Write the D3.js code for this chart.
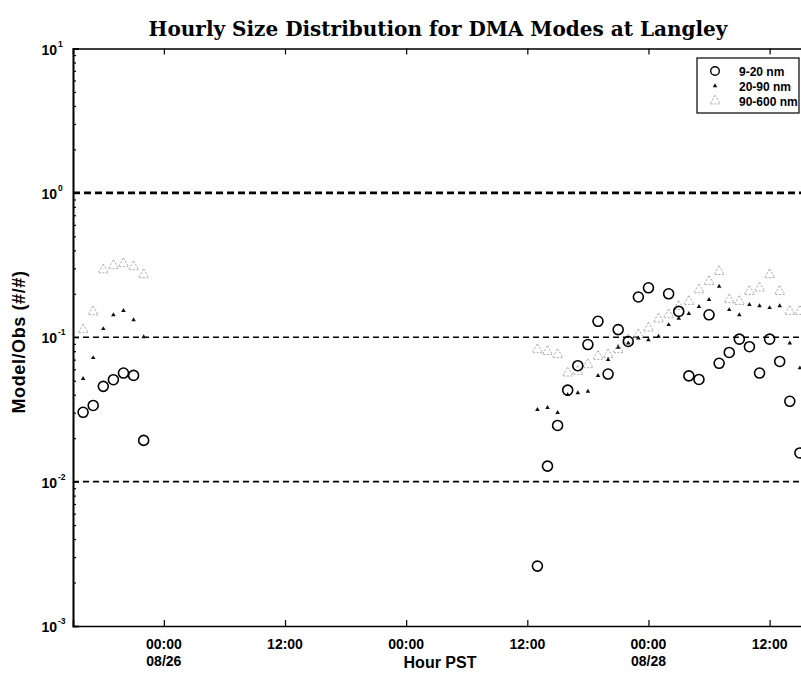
<!DOCTYPE html>
<html>
<head>
<meta charset="utf-8">
<script src="https://cdn.jsdelivr.net/npm/d3@7"></script>
<style>
  body { margin: 0; background: #fff; }
  svg { display: block; }
</style>
</head>
<body>
<svg id="chart" width="801" height="673"></svg>
<script>
// ---- data: hourly model/observation ratios (PST) ----
const eveningHours = [
  "2000-08-25T16:00", "2000-08-25T17:00", "2000-08-25T18:00", "2000-08-25T19:00",
  "2000-08-25T20:00", "2000-08-25T21:00", "2000-08-25T22:00"
];
const eveningSmall  = [0.0302, 0.0337, 0.0457, 0.0508, 0.0565, 0.0544, 0.0193];
const eveningMedium = [0.0516, 0.0721, 0.1145, 0.143, 0.153, 0.132, 0.1007];
const eveningLarge  = [0.1127, 0.150, 0.293, 0.313, 0.323, 0.308, 0.271];

const laterHours = [
  "2000-08-27T13:00", "2000-08-27T14:00", "2000-08-27T15:00", "2000-08-27T16:00",
  "2000-08-27T17:00", "2000-08-27T18:00", "2000-08-27T19:00", "2000-08-27T20:00",
  "2000-08-27T21:00", "2000-08-27T22:00", "2000-08-27T23:00", "2000-08-28T00:00",
  "2000-08-28T01:00", "2000-08-28T02:00", "2000-08-28T03:00", "2000-08-28T04:00",
  "2000-08-28T05:00", "2000-08-28T06:00", "2000-08-28T07:00", "2000-08-28T08:00",
  "2000-08-28T09:00", "2000-08-28T10:00", "2000-08-28T11:00", "2000-08-28T12:00",
  "2000-08-28T13:00", "2000-08-28T14:00", "2000-08-28T15:00"
];
const laterSmall = [0.0026, 0.0128, 0.0245, 0.043, 0.0635, 0.089, 0.129, 0.0556,
  0.113, 0.0935, 0.19, 0.22, null, 0.20, 0.151, 0.054, 0.051, 0.143, 0.066,
  0.0785, 0.097, 0.086, 0.0565, 0.097, 0.068, 0.036, 0.0158];
const laterMedium = [0.0315, 0.0325, 0.030, 0.040, 0.0411, 0.0422, 0.0542, 0.070,
  0.085, 0.091, 0.0987, 0.096, 0.1013, 0.122, 0.135, 0.1455, 0.163, 0.182, 0.225,
  0.155, 0.143, 0.168, 0.165, 0.16, 0.165, 0.091, 0.0612];
const laterLarge = [0.0819, 0.0797, 0.0757, 0.0565, 0.058, 0.0645, 0.0737, 0.0757,
  0.0819, 0.096, 0.104, 0.1157, 0.1336, 0.143, 0.1633, 0.177, 0.213, 0.243, 0.285,
  0.182, 0.177, 0.2075, 0.219, 0.271, 0.2075, 0.151, 0.151];

const seriesNames = ["9-20 nm", "20-90 nm", "90-600 nm"];
const referenceLevels = [1, 0.1, 0.01];

const xTickTimes  = ["2000-08-26T00:00", "2000-08-26T12:00", "2000-08-27T00:00",
                     "2000-08-27T12:00", "2000-08-28T00:00", "2000-08-28T12:00"];
const xTickHours  = ["00:00", "12:00", "00:00", "12:00", "00:00", "12:00"];
const xTickDates  = ["08/26", "", "", "", "08/28", ""];
const yTickValues = [10, 1, 0.1, 0.01, 0.001];
const yTickExps   = ["1", "0", "-1", "-2", "-3"];

const titleText = "Hourly Size Distribution for DMA Modes at Langley";
const xLabel = "Hour PST";
const yLabel = "Model/Obs (#/#)";

// ---- layout ----
const svg = d3.select("#chart");
const plot = { left: 73, top: 48.5, right: 810, bottom: 626 };
const parse = d3.utcParse("%Y-%m-%dT%H:%M");
const sans = "Liberation Sans, Arial, sans-serif";

const x = d3.scaleUtc()
  .domain([parse("2000-08-25T15:00"), parse("2000-08-28T16:00")])
  .range([plot.left, plot.right]);
const y = d3.scaleLog().domain([0.001, 10]).range([plot.bottom, plot.top]);

svg.append("rect").attr("width", 801).attr("height", 673).attr("fill", "#fff");

// reference ratio lines
svg.append("g").selectAll("line").data(referenceLevels).join("line")
  .attr("x1", plot.left).attr("x2", plot.right)
  .attr("y1", d => y(d)).attr("y2", d => y(d))
  .attr("stroke", "#000")
  .attr("stroke-width", d => d === 1 ? 2.6 : 1.7)
  .attr("stroke-dasharray", d => d === 1 ? "7,4" : "6,4");

// axes (ticks point inward)
const minorY = [];
[0.001, 0.01, 0.1, 1].forEach(dec => { for (let k = 2; k <= 9; k++) minorY.push(dec * k); });

svg.append("g").attr("transform", `translate(${plot.left},0)`)
  .call(d3.axisLeft(y).tickValues(yTickValues).tickSize(-6).tickFormat(""));
svg.append("g").attr("transform", `translate(${plot.left},0)`)
  .call(d3.axisLeft(y).tickValues(minorY).tickSize(-3).tickFormat(""));
svg.append("g").attr("transform", `translate(0,${plot.bottom})`)
  .call(d3.axisBottom(x).tickValues(xTickTimes.map(parse)).tickSize(-6).tickFormat(""));
svg.append("g").attr("transform", `translate(0,${plot.top})`)
  .call(d3.axisTop(x).tickValues(xTickTimes.map(parse)).tickSize(-6).tickFormat(""));
svg.selectAll(".domain").attr("stroke-width", 1.6);
svg.selectAll(".tick line").attr("stroke-width", 1.2);

// y tick labels: 10 with superscript exponent
const yl = svg.append("g").attr("font-family", sans)
  .attr("font-weight", "bold").attr("fill", "#000");
yTickValues.forEach((v, i) => {
  yl.append("text").attr("x", 57).attr("y", y(v) + 6)
    .attr("text-anchor", "end").attr("font-size", 14).text("10");
  yl.append("text").attr("x", 58).attr("y", y(v) - 2)
    .attr("font-size", 8.5).text(yTickExps[i]);
});

// x tick labels
const xl = svg.append("g").attr("font-family", sans)
  .attr("font-weight", "bold").attr("font-size", 14).attr("text-anchor", "middle");
xTickTimes.forEach((t, i) => {
  const px = x(parse(t));
  xl.append("text").attr("x", px).attr("y", 649).text(xTickHours[i]);
  if (xTickDates[i]) xl.append("text").attr("x", px).attr("y", 666).text(xTickDates[i]);
});

// axis titles
svg.append("text").attr("x", 438).attr("y", 36).attr("text-anchor", "middle")
  .attr("font-family", "DejaVu Serif, serif").attr("font-weight", "bold")
  .attr("font-size", 20).text(titleText);
svg.append("text").attr("x", 440).attr("y", 668).attr("text-anchor", "middle")
  .attr("font-family", sans).attr("font-weight", "bold")
  .attr("font-size", 16).text(xLabel);
svg.append("text").attr("transform", "translate(25,342) rotate(-90)")
  .attr("text-anchor", "middle")
  .attr("font-family", sans).attr("font-weight", "bold")
  .attr("font-size", 18).attr("letter-spacing", 0.6).text(yLabel);

// ---- markers ----
const groups = [
  { hours: eveningHours, small: eveningSmall, medium: eveningMedium, large: eveningLarge },
  { hours: laterHours,   small: laterSmall,   medium: laterMedium,   large: laterLarge }
];
const pts = key => groups.flatMap(g => g.hours.map((h, i) => ({ t: parse(h), v: g[key][i] })))
  .filter(d => d.v != null);

svg.append("clipPath").attr("id", "plotclip").append("rect")
  .attr("x", plot.left).attr("y", plot.top)
  .attr("width", plot.right - plot.left).attr("height", plot.bottom - plot.top);
const marks = svg.append("g").attr("clip-path", "url(#plotclip)");

const triLarge = d3.symbol().type(d3.symbolTriangle).size(45);
const triSmall = d3.symbol().type(d3.symbolTriangle).size(9);

function drawLarge(g, data) {
  g.selectAll(null).data(data).join("path")
    .attr("d", triLarge)
    .attr("transform", d => `translate(${x(d.t)},${y(d.v)})`)
    .attr("fill", "none").attr("stroke", "#a8a8a8").attr("stroke-width", 1)
    .attr("stroke-dasharray", "2,1.5");
}
function drawMedium(g, data) {
  g.selectAll(null).data(data).join("path")
    .attr("d", triSmall)
    .attr("transform", d => `translate(${x(d.t)},${y(d.v)})`)
    .attr("fill", "#111");
}
function drawSmall(g, data) {
  g.selectAll(null).data(data).join("circle")
    .attr("cx", d => x(d.t)).attr("cy", d => y(d.v)).attr("r", 5)
    .attr("fill", "none").attr("stroke", "#000").attr("stroke-width", 1.6);
}
drawLarge(marks.append("g"), pts("large"));
drawMedium(marks.append("g"), pts("medium"));
drawSmall(marks.append("g"), pts("small"));

// ---- legend ----
const lg = svg.append("g").attr("transform", "translate(697,58)");
lg.append("rect").attr("width", 102).attr("height", 55)
  .attr("fill", "#fff").attr("stroke", "#000").attr("stroke-width", 1.2);
const rowY = [13, 28, 43];
lg.append("circle").attr("cx", 18).attr("cy", rowY[0]).attr("r", 4.3)
  .attr("fill", "none").attr("stroke", "#000").attr("stroke-width", 1.4);
lg.append("path").attr("d", triSmall).attr("transform", `translate(18,${rowY[1]})`).attr("fill", "#111");
lg.append("path").attr("d", triLarge).attr("transform", `translate(18,${rowY[2]})`)
  .attr("fill", "none").attr("stroke", "#a8a8a8").attr("stroke-dasharray", "2,1.5");
lg.selectAll("text.lbl").data(seriesNames).join("text").attr("class", "lbl")
  .attr("x", 42).attr("y", (d, i) => rowY[i] + 4.5)
  .attr("font-family", sans).attr("font-weight", "bold")
  .attr("font-size", 12).text(d => d);
</script>
</body>
</html>
